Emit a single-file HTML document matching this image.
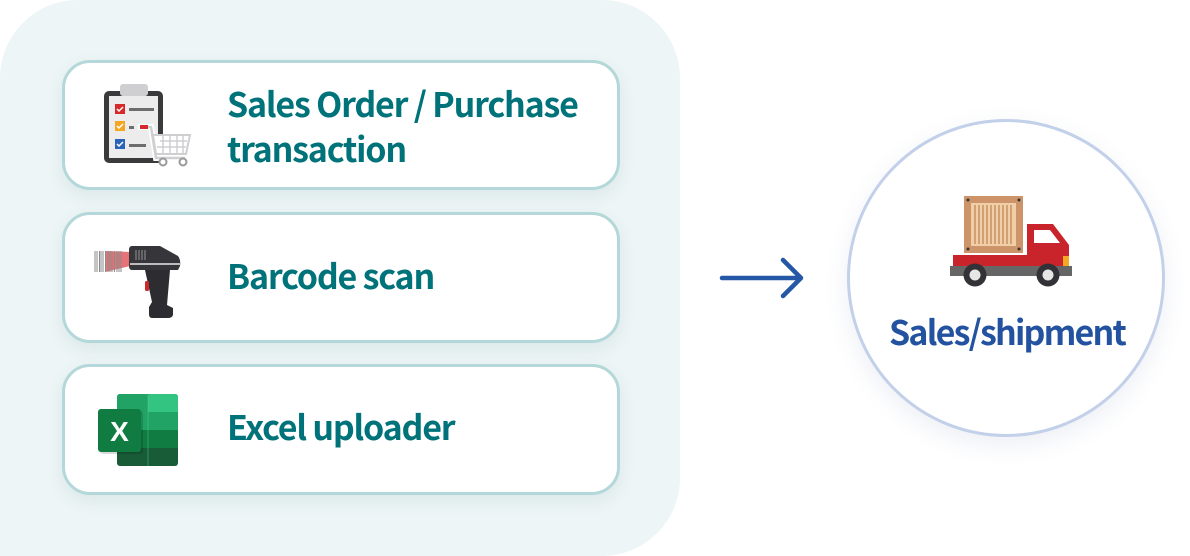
<!DOCTYPE html>
<html><head><meta charset="utf-8">
<style>
html,body{margin:0;padding:0;background:#fff;}
body{width:1190px;height:556px;position:relative;overflow:hidden;font-family:"Noto Sans CJK KR","Liberation Sans",sans-serif;}
.panel{position:absolute;left:0;top:0;width:680px;height:556px;background:#edf5f6;border-radius:78px 78px 78px 0;}
.card{position:absolute;left:62px;width:558px;background:#fff;border:3.5px solid #b4d8da;border-radius:28px;box-sizing:border-box;box-shadow:0 6px 16px rgba(60,120,125,0.10);}
.t{position:absolute;color:#00737a;font-weight:700;font-size:34px;letter-spacing:-1.2px;line-height:45px;white-space:nowrap;}
.circle{position:absolute;left:847px;top:119px;width:318px;height:318px;border-radius:50%;border:3px solid #c3d0e9;box-sizing:border-box;background:#fff;box-shadow:0 8px 24px rgba(80,100,160,0.10);}
.ct{position:absolute;color:#2352a0;font-weight:700;font-size:34px;letter-spacing:-1.8px;white-space:nowrap;}
svg{position:absolute;left:0;top:0;}
</style></head><body>
<div class="panel"></div>
<div class="card" style="top:60px;height:130px;"></div>
<div class="card" style="top:212px;height:131px;"></div>
<div class="card" style="top:364px;height:131px;"></div>
<div class="circle"></div>

<svg width="1190" height="556" viewBox="0 0 1190 556">
  <!-- clipboard -->
  <rect x="104" y="91" width="59" height="72" rx="5" fill="#3a3a3d"/>
  <rect x="109" y="96" width="49" height="62" fill="#ececec"/>
  <rect x="120" y="84" width="28" height="12" rx="3" fill="#cfcfd2"/>
  <rect x="115" y="104" width="10" height="10" fill="#d62a2a"/>
  <rect x="115" y="121" width="10" height="10" fill="#f5a623"/>
  <rect x="115" y="139" width="10" height="10" fill="#2a63b8"/>
  <path d="M117 109l2 2 4-4M117 126l2 2 4-4M117 144l2 2 4-4" stroke="#fff" stroke-width="1.5" fill="none"/>
  <rect x="129" y="108" width="25" height="3" fill="#6d6d6d"/>
  <rect x="129" y="126" width="5" height="3" fill="#6d6d6d"/>
  <rect x="129" y="144" width="17" height="3" fill="#6d6d6d"/>
  <!-- cart -->
  <path d="M138 127 H151 L156 158 H185" stroke="#fff" stroke-width="6" fill="none"/>
  <path d="M153 135 H190 L186 154 H156 Z" fill="#fff"/>
  <rect x="140" y="125" width="8" height="4" fill="#d62a2a"/>
  <path d="M148 127 H151 L156 158 H185" stroke="#cfcfd2" stroke-width="2.5" fill="none"/>
  <path d="M153 135 H190 L186 154 H156 Z" fill="none" stroke="#cfcfd2" stroke-width="2"/>
  <path d="M160 141 H187 M157 147 H186 M163 135 V154 M170 135 V154 M177 135 V154 M183 135 V154" stroke="#cfcfd2" stroke-width="1.5"/>
  <circle cx="163" cy="162" r="3.5" fill="#fff" stroke="#9a9a9a" stroke-width="2"/>
  <circle cx="183" cy="162" r="3.5" fill="#fff" stroke="#9a9a9a" stroke-width="2"/>

  <!-- scanner -->
  <polygon points="105,251 130,252 130,266 105,272" fill="#e05a5f" opacity="0.85"/>
  <g stroke="#8a8a8a" stroke-width="1">
    <path d="M95 251V272M97 251V272M99.5 251V272M101 251V272M103 251V272M105.5 251V272M108 251V272M110 251V272M112 251V272M114.5 251V272M117 251V272M119 251V272M121 251V272"/>
  </g>
  <path d="M132 246 H160 L178 256 Q181 260 180 266 L178 270 H132 Q129 270 129 266 V250 Q129 246 132 246Z" fill="#35353a"/>
  <rect x="130" y="263" width="50" height="2" fill="#bdbdc0"/>
  <path d="M136 250V260M139 250V260M142 250V260M145 250V260" stroke="#777" stroke-width="1.5"/>
  <path d="M145 270 H170 L167 305 L173 308 V315 Q172 318 168 318 H152 Q149 318 149 314 V307 L152 302 Z" fill="#2d2d31"/>
  <rect x="145" y="281" width="4" height="10" rx="1.5" fill="#cc2a2a"/>

  <!-- excel -->
  <rect x="117" y="394" width="61" height="72" rx="3" fill="#185c37"/>
  <rect x="117" y="394" width="61" height="18" rx="3" fill="#21a366"/>
  <rect x="148" y="394" width="30" height="18" rx="3" fill="#33c481"/>
  <rect x="117" y="406" width="31" height="6" fill="#21a366"/>
  <rect x="148" y="406" width="30" height="6" fill="#33c481"/>
  <rect x="117" y="412" width="61" height="18" fill="#21a366"/>
  <rect x="117" y="430" width="61" height="18" fill="#107c41"/>
  <rect x="148" y="412" width="30" height="18" fill="#21a366"/>
  <rect x="147.5" y="394" width="1" height="72" fill="#5fd49a" opacity="0.4"/>
  <rect x="100" y="411" width="43" height="43" rx="3" fill="#000" opacity="0.15"/>
  <rect x="98" y="409" width="43" height="43" rx="3" fill="#107c41"/>
  <text x="119.5" y="441" text-anchor="middle" font-family="Liberation Sans, sans-serif" font-weight="700" font-size="28" fill="#fff">X</text>

  <!-- arrow -->
  <path d="M722 278 H801 M783 260 L801 278 L783 296" stroke="#2557a7" stroke-width="4.5" fill="none" stroke-linecap="round" stroke-linejoin="round"/>

  <!-- truck -->
  <rect x="953" y="255" width="74" height="13" fill="#c9232b"/>
  <path d="M1027 224 H1053 L1069 245 V268 H1027 Z" fill="#c9232b"/>
  <path d="M1034 230 H1050 L1060 243 H1034 Z" fill="#fff"/>
  <rect x="1063" y="256" width="6" height="10" fill="#f5a623"/>
  <rect x="950" y="266" width="122" height="10" fill="#666"/>
  <rect x="964" y="196" width="59" height="57" fill="#cc9468"/>
  <rect x="971" y="203" width="45" height="43" fill="#f0cfa8"/>
  <g stroke="#cc9468" stroke-width="1.6">
    <path d="M975 205V244M979 205V244M983 205V244M987 205V244M991 205V244M995 205V244M999 205V244M1003 205V244M1007 205V244M1011 205V244"/>
  </g>
  <circle cx="968" cy="200" r="1.5" fill="#333"/><circle cx="1019" cy="200" r="1.5" fill="#333"/>
  <circle cx="968" cy="249" r="1.5" fill="#333"/><circle cx="1019" cy="249" r="1.5" fill="#333"/>
  <circle cx="975" cy="275" r="11.5" fill="#333337"/>
  <circle cx="975" cy="275" r="5.5" fill="#e6e6e6"/>
  <circle cx="1048" cy="275" r="11.5" fill="#333337"/>
  <circle cx="1048" cy="275" r="5.5" fill="#e6e6e6"/>
</svg>

<div class="t" style="left:227px;top:80px;">Sales Order / Purchase</div>
<div class="t" style="left:227px;top:125px;">transaction</div>
<div class="t" style="left:227px;top:252px;">Barcode scan</div>
<div class="t" style="left:227px;top:403px;">Excel uploader</div>
<div class="ct" style="left:889px;top:308px;line-height:45px;">Sales/shipment</div>
</body></html>
